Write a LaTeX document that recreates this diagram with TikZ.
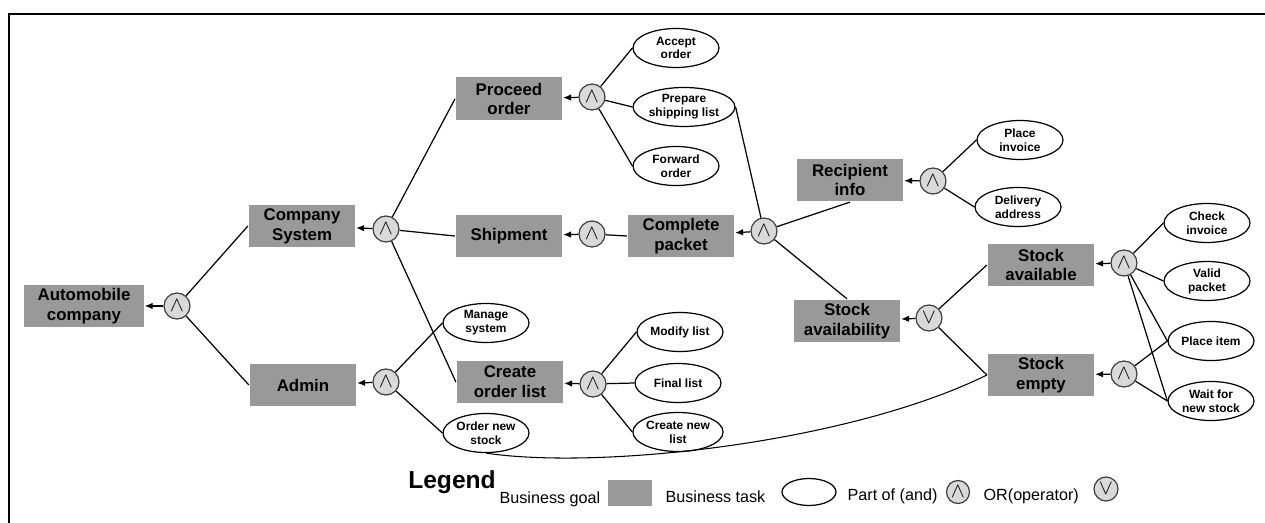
\documentclass[tikz,border=0pt]{standalone}
\usepackage{fontspec}
\setmainfont{Liberation Sans}
\usetikzlibrary{shapes.geometric,arrows.meta}
\begin{document}
\begin{tikzpicture}[
        x=0.02cm, y=-0.02cm,
        line width=0.7pt,
        goal/.style={fill=black!40, minimum width=2.14cm, minimum height=0.86cm, inner sep=1pt, align=center, font=\bfseries\fontsize{9.6}{11.3}\selectfont},
        task/.style={draw, ellipse, fill=white, minimum width=1.72cm, minimum height=0.78cm, inner sep=0pt, align=center, font=\bfseries\fontsize{6.8}{7.9}\selectfont},
        op/.style={draw=black!75, circle, fill=black!15, minimum size=0.52cm, inner sep=0pt, font=\fontsize{12}{12}\selectfont},
        tip/.style={-{Latex[length=1.6mm,width=1.3mm]}},
        key/.style={anchor=west, inner sep=0pt, font=\fontsize{9.2}{10}\selectfont}
      ]
      \useasboundingbox (0,0) rectangle (1265,523);
      \draw[line width=0.8pt] (9,523) -- (9,14) -- (1265,14);

      \node[goal, minimum width=2.4cm] (auto) at (84,306) {Automobile\\company};
      \node[op] (autoand) at (177,306) {$\wedge$};
      \node[goal] (cs) at (302,226) {Company\\System};
      \node[op] (csand) at (386,229) {$\wedge$};
      \node[goal] (admin) at (303,385) {Admin};
      \node[op] (adand) at (386,382) {$\wedge$};
      \node[goal] (po) at (509,99) {Proceed\\order};
      \node[op] (poand) at (592,97) {$\wedge$};
      \node[task] (ao) at (676,48) {Accept\\order};
      \node[task, minimum width=2.04cm] (psl) at (684,107) {Prepare\\shipping list};
      \node[task] (fo) at (676,166) {Forward\\order};
      \node[goal] (ship) at (509,236) {Shipment};
      \node[op] (shand) at (592,234) {$\wedge$};
      \node[goal] (cp) at (681,236) {Complete\\packet};
      \node[op] (cpand) at (764,231) {$\wedge$};
      \node[goal] (ri) at (850,180) {Recipient\\info};
      \node[op] (riand) at (933,181) {$\wedge$};
      \node[task] (pi) at (1020,140) {Place\\invoice};
      \node[task] (da) at (1018,207) {Delivery\\address};
      \node[goal] (sa) at (847,321) {Stock\\availability};
      \node[op] (saor) at (929,318) {$\vee$};
      \node[goal] (sav) at (1041,265) {Stock\\available};
      \node[op] (savand) at (1124,263) {$\wedge$};
      \node[goal] (se) at (1041,375) {Stock\\empty};
      \node[op] (seand) at (1124,374) {$\wedge$};
      \node[task] (ci) at (1207,223) {Check\\invoice};
      \node[task] (vp) at (1207,281) {Valid\\packet};
      \node[task] (pit) at (1211,341) {Place item};
      \node[task] (wns) at (1211,401) {Wait for\\new stock};
      \node[task] (ms) at (486,323) {Manage\\system};
      \node[goal] (col) at (510,382) {Create\\order list};
      \node[op] (coland) at (593,384) {$\wedge$};
      \node[task] (ml) at (680,332) {Modify list};
      \node[task] (fl) at (678,383) {Final list};
      \node[task] (cnl) at (678,432) {Create new\\list};
      \node[task] (ons) at (486,433) {Order new\\stock};

      \draw[tip] (autoand) -- (auto);
      \draw[tip] (csand) -- (cs);
      \draw[tip] (adand) -- (admin);
      \draw[tip] (poand) -- (po);
      \draw[tip] (shand) -- (ship);
      \draw[tip] (cpand) -- (cp);
      \draw[tip] (riand) -- (ri);
      \draw[tip] (saor) -- (sa);
      \draw[tip] (savand) -- (sav);
      \draw[tip] (seand) -- (se);
      \draw[tip] (coland) -- (col);

      \draw (autoand) -- (cs.west) (autoand) -- (admin.west);
      \draw (csand) -- (po.west) (csand) -- (ship.west) (csand) -- (col.west);
      \draw (adand) -- (ms.west) (adand) -- (ons.west);
      \draw (poand) -- (ao.west) (poand) -- (psl.west) (poand) -- (fo.west);
      \draw (shand) -- (cp.west);
      \draw (cpand) -- (psl.east) (cpand) -- (ri.south) (cpand) -- (sa.north);
      \draw (riand) -- (pi.west) (riand) -- (da.west);
      \draw (saor) -- (sav.west) (saor) -- (se.west);
      \draw (savand) -- (ci.west) (savand) -- (vp.west) (savand) -- (pit.west) (savand) -- (wns.west);
      \draw (seand) -- (pit.west) (seand) -- (wns.west);
      \draw (coland) -- (ml.west) (coland) -- (fl.west) (coland) -- (cnl.west);
      \draw[line width=0.6pt] (ons.south) .. controls +(114,17) and +(-138,68) .. (se.west);

      \node[font=\bfseries\fontsize{14}{16}\selectfont, inner sep=0pt] (legend) at (452,482) {Legend};
      \node[key] (bgoal) at (499,499) {Business goal};
      \node[fill=black!40, minimum width=0.88cm, minimum height=0.52cm, inner sep=0pt] (kgoal) at (630,493) {};
      \node[key] (btask) at (665,497) {Business task};
      \node[draw, ellipse, minimum width=1.08cm, minimum height=0.54cm, inner sep=0pt] (ktask) at (809,492) {};
      \node[key] (band) at (847,496) {Part of (and)};
      \node[op, minimum size=0.46cm] (kand) at (958,492) {$\wedge$};
      \node[key] (bor) at (983,496) {OR(operator)};
      \node[op, minimum size=0.48cm] (kor) at (1106,489) {$\vee$};
\end{tikzpicture}
\end{document}
